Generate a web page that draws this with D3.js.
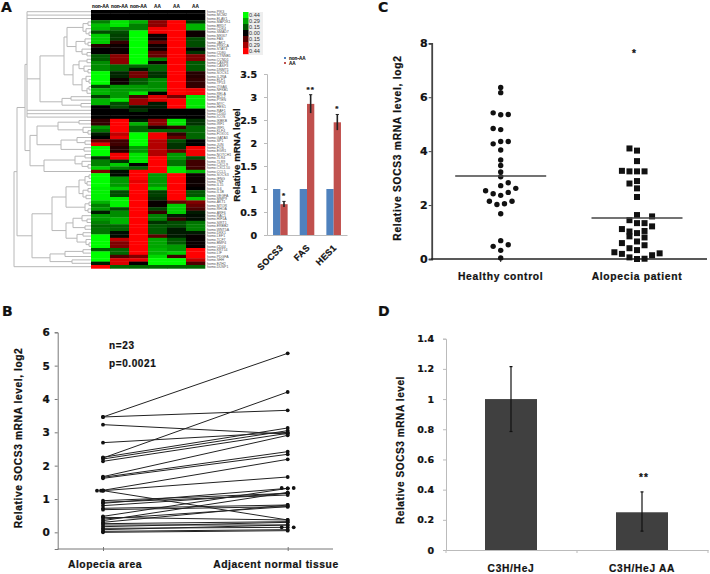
<!DOCTYPE html>
<html><head><meta charset="utf-8">
<script src="https://cdn.jsdelivr.net/npm/d3@7/dist/d3.min.js"></script>
<style>
html,body{margin:0;padding:0;background:#fff}
svg{display:block}
text{font-family:"Liberation Sans",Arial,sans-serif;font-weight:bold;fill:#111;stroke:#111;stroke-width:.22}
.num text,text.num{font-family:"DejaVu Sans",sans-serif}
text.fine{stroke:none;font-weight:normal}
</style></head><body><div id="c"></div>
<script>
// ---------- Panel A: heatmap ----------
const heatGroups=["non-AA","non-AA","non-AA","AA","AA","AA"];
const heatCol1=[0,0,0,-.5,-.75,-.7,-.3,-.8,-.8,-.8,.15,0,0,-.35,-.35,-.55,-.55,-.55,-1,-1,-1,-1,-.3,-.7,-.7,-.25,-.7,-.7,0,0,0,0,.2,.2,-.6,-.45,-.1,0,.4,.9,-1,-1,-1,-.2,-.5,-.5,-.8,.5,-1,-1,-1,-1,-.95,-.95,-.95,-.95,-.7,-.5,-.6,-.1,-.6,-.6,-.5,-.4,-.45,-.45,-1,-1,-1,-1,-.35,-1,-1,-1,-.1,1];
const heatCol2=[0,0,0,-.9,-.9,-.5,-.3,-.25,-.25,.2,.05,.05,.05,.55,.55,.55,-.4,-.4,-.15,-.15,.05,.05,-.6,-.6,-.6,-.6,-.9,-.3,-.3,0,0,0,1,1,1,1,.75,.9,.25,.25,.15,.15,.95,.95,-.2,-.8,-.5,-.05,-.05,-.6,-.6,-.6,-.8,-.3,-.3,-.95,-.95,-.95,-.3,-.55,-.55,-.7,-.7,-.4,-.4,-.05,-.05,.75,.5,.5,-.4,-.4,.3,.85,.85,-.4];
const heatCol3=[0,0,0,-.7,-.5,-.5,-1,-1,-1,-1,-1,-1,-1,-1,-1,-1,-.4,-.1,.45,.45,-.35,-.35,-.6,-.6,-.9,.3,.6,.6,-.1,-.2,0,0,-.1,-.7,-.4,-.4,-1,-1,-1,-1,-.6,-.6,-.9,-.9,-.9,0,-.4,1,1,1,.9,1,1,1,1,1,1,1,1,1,1,1,1,1,1,1,1,1,1,1,1,1,.5,.9,0,-.4];
const heatCol4=[0,0,0,.55,.55,.95,.95,.05,.05,.4,.05,.05,.4,.4,-.5,.05,-.4,-.4,-.2,-.2,-.55,-.55,-.55,-.6,0,.85,.85,-.1,-.1,0,0,0,.55,.55,.1,-.4,.95,.95,.7,.7,.7,.7,.7,1,1,1,1,1,-.6,-.6,-.6,-.6,-.8,-.25,-.25,-.2,.03,.03,-.25,.2,-.5,-.5,-.2,-.35,-.35,-.35,.35,-.65,-.65,-.65,-.7,-.7,-.85,-1,-1,-.4];
const heatCol5=[0,0,0,1,1,1,1,1,1,1,1,1,1,1,1,1,1,1,1,1,1,1,1,1,1,.45,1,1,1,0,0,0,-.9,-.9,.2,-.4,.2,.4,-.3,-.2,-.2,.4,-.6,-.6,-.45,-.45,-.9,-.9,1,1,1,1,1,1,1,1,.4,-.8,-.8,-.8,-.1,.2,-.3,-.3,-.1,-.1,-.1,-.35,-.35,-.6,-.6,-.8,.25,-1,-1,-.4];
const heatCol6=[0,0,0,-.2,-.7,-.7,.05,.05,-.3,-.3,-.3,0,-.2,.5,.5,-.35,-.35,-.35,.15,.15,.2,.2,.2,.95,.95,-.9,-.9,-.9,-.9,0,0,0,-.2,-.2,-.4,-.4,-.4,-.4,0,0,.95,.95,.95,-.3,.25,.25,.25,-.7,.05,.05,.05,.05,0,-.35,-.35,-.8,.5,.4,.3,-.1,-.05,-.05,-.45,-.5,-.5,-.1,.03,.03,.03,.03,1,1,1,.75,.3,-.4];
const heatColumns=[heatCol1,heatCol2,heatCol3,heatCol4,heatCol5,heatCol6];
const geneNames=["PIK3","MCM2","ELAV1","MAP2K1","BRD7","CDK4","SMAD7","MKI67","FAS","JAK2","PRKCA","STAT3","CD80","CTNNB1","CCND1","CASP8","CASP3","DNMT1","SOCS1","IL2RA","ELF1","TP53","ITGA6","NFKB1","RELA","BCL2","PTEN","MYC","HES1","RAF1","CD40","ICOS","IKBKB","IRF1","IRF5","KLF4","FOXO1","GATA3","SP1","JUN","FOS","EGR1","NOTCH1","TLR4","TLR9","CXCL9","CXCL10","CCL5","SOCS3","IFNG","TNF","IL15","IL6","IL1B","VEGFA","MMP9","AKT1","MTOR","RHOA","ARF6","RAC1","HIF1A","SIRT1","ERBB2","WNT5A","DKK1","LEF1","TCF7","BMP4","CD44","KRT14","LIF","PDGFA","SHH","EZH2","DUSP1"];
const heatLegendValues=[-.44,-.29,-.15,0,.15,.29,.44];
// dendrogram: [merge distance, ...children], 0 is a leaf
const dendroTree=[77,[74,
 [66,[64,0,0,0,
   [51,
    [27,
     [24,[8,[3,0,0],[5,0,[2,0,0]]],[15,[6,0,[3,0,0]],[9,0,[4,0,0]]]],
     [18,[12,[4,0,0],[7,0,[3,0,0]]],[9,[5,0,[2,0,0]],[4,[2,0,0],0]]]],
    [29,[20,0,0],[10,0,0]]],
   0,0,0],
  [61,
   [54,[33,[12,0,0],[8,0,[3,0,0]]],[30,[14,0,[6,0,0]],[7,0,0]]],
   [47,[16,[6,0,0],[9,0,[3,0,0]]],0]]],
 [59,
  [39,
   [25,[12,[6,[2,0,0],[4,0,0]],[8,[3,0,0],[5,0,0]]],[6,[2,0,0],[3,0,0]]],
   [25,[18,[9,0,[4,0,0]],[6,0,0]],[14,[8,0,0],[5,0,[2,0,0]]]]],
  [41,[26,[8,0,0],0],[19,0,0]]]],0];
// Panel A: inset bars
const barGenes=["SOCS3","FAS","HES1"];
const barSeries=["non-AA","AA"];
const barNonAA=[1,1,1];
const barAA=[.67,2.85,2.45];
const barAAErr=[.06,.2,.17];
const barStars=["*","**","*"];
const barTicks=[0,.5,1,1.5,2,2.5,3,3.5];
// ---------- Panel B ----------
const pairCats=["Alopecia area","Adjacent normal tissue"];
const pairLeft=[3.46,3.46,3.23,2.69,2.23,2.25,2.2,2.13,1.67,1.65,1.62,1.26,1.25,1.25,.95,.9,.87,.8,.72,.68,.48,.45,.4,.35,.3,.26,.22,.17,.12,.08,.03,0];
const pairRight=[5.37,3.66,2.95,3.0,4.21,3.13,3.05,2.97,2.91,2.42,2.34,2.19,1.66,.37,1.17,1.12,1.32,1.17,.82,.77,1.32,.37,.77,1.2,.82,.32,.22,.3,.15,.22,.08,.05];
const pairExtraLeft=[[-3,1.25],[-1,1.25]];
const pairExtraRight=[[-3,1.33],[3,1.33],[-3,.15],[3,.15]];
const pairTicks=[0,1,2,3,4,5,6];
// ---------- Panel C ----------
const scatterCats=["Healthy control","Alopecia patient"];
const healthyValues=[6.36,6.17,5.42,5.35,5.36,4.84,4.8,4.27,4.36,4.36,4.04,3.67,3.47,3.23,3.05,2.72,2.83,2.62,2.53,2.42,2.36,2.47,2.14,2.02,2.05,2.14,1.68,.68,.47,.53,.32,.04];
const healthySlots=[0,0,-2,0,2,-2,0,-2,0,2,0,0,0,0,0,0,2,4,-4,-2,0,2,-3,-1,1,3,0,0,-2,2,0,0];
const patientValues=[4.1,4.02,3.63,3.27,3.25,3.25,3.25,2.8,2.89,2.62,2.3,1.63,1.58,1.44,1.33,1.33,1.11,1.02,.96,1.04,1.21,.84,.8,.59,.65,.4,.51,.33,.25,.19,.06,0,.01,.14,.21];
const patientSlots=[-2,0,0,-4,-2,0,2,-2,0,0,0,0,4,-2,0,2,-4,-2,0,2,4,-2,2,-4,0,-2,2,0,-6,-4,-2,0,2,4,6];
const scatterMeans=[3.08,1.52];
const scatterTicks=[0,2,4,6,8];
// ---------- Panel D ----------
const mouseCats=["C3H/HeJ","C3H/HeJ AA"];
const mouseValues=[1,.25];
const mouseUpper=[1.215,.385];
const mouseLower=[.785,.125];
const mouseTicks=[0,.2,.4,.6,.8,1,1.2,1.4];

const svg=d3.select("#c").append("svg").attr("width",710).attr("height",574);
function label(x,y,s,size,opt={}){
  const t=svg.append("text").attr("x",x).attr("y",y).attr("font-size",size).text(s)
    .attr("text-anchor",opt.anchor||"middle");
  if(opt.rot!=null)t.attr("transform",`rotate(${opt.rot} ${x} ${y})`);
  if(opt.ls)t.style("letter-spacing",opt.ls+"px");
  if(opt.num)t.attr("class","num");
  if(opt.fine)t.attr("class","fine");
  if(opt.fill)t.style("fill",opt.fill);
  return t;
}
[["A",1,12],["B",2,316],["C",378,12],["D",378,316]].forEach(p=>label(p[1],p[2],p[0],14,{anchor:"start"}).style("font-family","DejaVu Sans"));

// ---- heatmap
const heatColor=d3.scaleLinear().domain([-1,0,1]).range(["#00ff00","#000000","#ff0000"]);
const heatX=d3.scaleBand().domain(d3.range(6)).range([91,205]);
const rowCount=heatCol1.length;
const heatY=d3.scaleBand().domain(d3.range(rowCount)).range([10,268.4]);
const heat=svg.append("g");
heatColumns.forEach((col,c)=>{
  heat.selectAll(null).data(col).join("rect")
   .attr("x",heatX(c)).attr("width",heatX.bandwidth()+.3)
   .attr("y",(d,i)=>heatY(i)).attr("height",heatY.bandwidth()+.3)
   .attr("fill",d=>heatColor(d));
});
heatGroups.forEach((g,i)=>label(heatX(i)+heatX.bandwidth()/2,8,g,4.7,{fine:false}).style("stroke-width",.1));
geneNames.forEach((g,i)=>label(207,heatY(i)+heatY.bandwidth()/2+1.2,"homo."+g,3.5,{anchor:"start",fill:"#555",fine:true}));

// ---- dendrogram
const dendroX=d3.scaleLinear().domain([0,77]).range([91,14]);
const root=d3.hierarchy(dendroTree,n=>Array.isArray(n)?n.slice(1):null);
let leafIdx=0;
root.eachAfter(n=>{
  if(!n.children){n.py=heatY(leafIdx)+heatY.bandwidth()/2;n.dist=0;leafIdx++;}
  else{n.dist=n.data[0];n.py=(n.children[0].py+n.children[n.children.length-1].py)/2;}
});
const dp=d3.path();
root.each(n=>{
  if(!n.children)return;
  const x=dendroX(n.dist);
  dp.moveTo(x,n.children[0].py);dp.lineTo(x,n.children[n.children.length-1].py);
  n.children.forEach(c=>{dp.moveTo(x,c.py);dp.lineTo(dendroX(c.dist),c.py);});
});
svg.append("path").attr("d",dp.toString()).attr("fill","none").attr("stroke","#b8b8b8").attr("stroke-width",1);

// ---- heat legend
svg.append("rect").attr("x",248).attr("y",12).attr("width",15).attr("height",43).attr("fill","#eeeeee");
const legendY=d3.scaleBand().domain(heatLegendValues).range([12,54]);
svg.selectAll(null).data(heatLegendValues).join("rect")
  .attr("x",243).attr("width",5.5).attr("y",d=>legendY(d)).attr("height",legendY.bandwidth()+.2)
  .attr("fill",d=>heatColor(d/.44));
heatLegendValues.forEach((v,i)=>label(249,legendY(v)+legendY.bandwidth()/2+2,Math.abs(v).toFixed(2),5.6,{anchor:"start",fill:"#333",fine:true}));

// ---- inset bars
const barX=d3.scaleBand().domain(barGenes).range([267,347]);
const barW=7.3;
const barInner=d3.scaleBand().domain(barSeries).range([barX.bandwidth()/2-barW,barX.bandwidth()/2+barW]);
const barY=d3.scaleLinear().domain([0,3.5]).range([235,74]);
const barCols={"non-AA":"#4f81bd","AA":"#c0504d"};
const ga=svg.append("g").attr("transform","translate(267,0)").attr("class","num")
  .call(d3.axisLeft(barY).tickValues(barTicks).tickFormat(d3.format("~g")).tickSize(3).tickPadding(7));
ga.selectAll("text").attr("font-size",9.5).attr("font-weight","bold");
ga.selectAll("path,line").attr("stroke","#bbb");
const gax=svg.append("g").attr("transform","translate(0,235)").call(d3.axisBottom(barX).tickValues([]).tickSize(0));
gax.select("path").attr("stroke","#bbb");
barX.domain().forEach((g,i)=>{
  const gx=barX(g);
  svg.append("rect").attr("x",gx+barInner("non-AA")).attr("width",barW).attr("y",barY(barNonAA[i])).attr("height",barY(0)-barY(barNonAA[i])).attr("fill",barCols["non-AA"]);
  svg.append("rect").attr("x",gx+barInner("AA")).attr("width",barW).attr("y",barY(barAA[i])).attr("height",barY(0)-barY(barAA[i])).attr("fill",barCols["AA"]);
  const ex=gx+barInner("AA")+barW/2;
  svg.append("line").attr("x1",ex).attr("x2",ex).attr("y1",barY(barAA[i]+barAAErr[i])).attr("y2",barY(barAA[i]-barAAErr[i])).attr("stroke","#222").attr("stroke-width",1.6);
  svg.append("line").attr("x1",ex-1.6).attr("x2",ex+1.6).attr("y1",barY(barAA[i]+barAAErr[i])).attr("y2",barY(barAA[i]+barAAErr[i])).attr("stroke","#222");
  label(ex,barY(barAA[i]+barAAErr[i])-3,barStars[i],8).style("letter-spacing","1px");
  label(gx+barX.bandwidth()/2+2,247,g,9,{anchor:"end",rot:-45,ls:.3}).attr("dy",2);
});
label(240,155,"Relative mRNA level",9.7,{rot:-90});
barSeries.forEach((s,i)=>{
  const y=d3.scalePoint().domain(barSeries).range([58,63])(s);
  svg.append("rect").attr("x",284).attr("y",y-1).attr("width",2).attr("height",2).attr("fill",barCols[s]);
  label(289,y+1.7,s,4.6,{anchor:"start"}).style("stroke-width",.1);
});

// ---- Panel B
const pairX=d3.scalePoint().domain(pairCats).range([103,287.7]);
const pairY=d3.scaleLinear().domain([-.5,6]).range([549,332.3]);
const jit=d3.scaleLinear().domain([-1,1]).range([-2,2]);
const gb=svg.append("g").attr("transform","translate(57.7,0)").attr("class","num")
  .call(d3.axisLeft(pairY).tickValues(pairTicks).tickFormat(d3.format("d")).tickSize(3).tickPadding(5));
gb.selectAll("text").attr("font-size",10.5).attr("font-weight","bold");
gb.selectAll("path,line").attr("stroke","#777");
const gbx=svg.append("g").attr("transform","translate(0,549)").call(d3.axisBottom(pairX).tickSize(4).tickFormat(""));
gbx.selectAll("line").attr("stroke","#777").attr("transform","translate(0,-2)");
svg.append("line").attr("x1",57.7).attr("x2",333).attr("y1",549).attr("y2",549).attr("stroke","#777");
gbx.select("path").remove();
pairLeft.forEach((l,i)=>svg.append("line").attr("x1",pairX(pairCats[0])).attr("x2",pairX(pairCats[1])).attr("y1",pairY(l)).attr("y2",pairY(pairRight[i])).attr("stroke","#222").attr("stroke-width",1));
svg.selectAll(null).data(pairLeft).join("circle").attr("cx",pairX(pairCats[0])).attr("cy",d=>pairY(d)).attr("r",1.9).attr("fill","#111");
svg.selectAll(null).data(pairRight).join("circle").attr("cx",pairX(pairCats[1])).attr("cy",d=>pairY(d)).attr("r",1.9).attr("fill","#111");
svg.selectAll(null).data(pairExtraLeft).join("circle").attr("cx",d=>pairX(pairCats[0])+jit(d[0])).attr("cy",d=>pairY(d[1])).attr("r",1.9).attr("fill","#111");
svg.selectAll(null).data(pairExtraRight).join("circle").attr("cx",d=>pairX(pairCats[1])+jit(d[0])).attr("cy",d=>pairY(d[1])).attr("r",1.9).attr("fill","#111");
label(19,438,"Relative SOCS3 mRNA level, log2",10.2,{rot:-90,ls:.6}).attr("dy",3);
label(109,349,"n=23",10,{anchor:"start",ls:.7});
label(109,367,"p=0.0021",10,{anchor:"start",ls:.6});
label(105,568,pairCats[0],10.3,{ls:.55});
label(276,568,pairCats[1],10.3,{ls:.55});

// ---- Panel C
const scatX=d3.scalePoint().domain(scatterCats).range([500.7,637]);
const scatY=d3.scaleLinear().domain([0,8]).range([259,43.3]);
const slot=d3.scaleLinear().domain([-1,1]).range([-3.77,3.77]);
const gc=svg.append("g").attr("transform","translate(431.7,0)").attr("class","num")
  .call(d3.axisLeft(scatY).tickValues(scatterTicks).tickFormat(d3.format("d")).tickSize(3).tickPadding(1));
gc.selectAll("text").attr("font-size",11).attr("font-weight","bold");
gc.selectAll("path,line").attr("stroke","#444");
gc.select("path").attr("stroke-width",1.8);
svg.append("line").attr("x1",431).attr("x2",707).attr("y1",scatY(0)).attr("y2",scatY(0)).attr("stroke","#222").attr("stroke-width",1.3);
scatterCats.forEach(c=>svg.append("line").attr("x1",scatX(c)).attr("x2",scatX(c)).attr("y1",scatY(0)).attr("y2",scatY(0)+3).attr("stroke","#222"));
svg.selectAll(null).data(healthyValues).join("circle").attr("cx",(d,i)=>scatX(scatterCats[0])+slot(healthySlots[i])).attr("cy",d=>scatY(d)).attr("r",2.7).attr("fill","#111");
svg.selectAll(null).data(patientValues).join("rect").attr("x",(d,i)=>scatX(scatterCats[1])+slot(patientSlots[i])-3).attr("y",d=>scatY(d)-3).attr("width",6).attr("height",6).attr("fill","#111");
scatterMeans.forEach((m,i)=>svg.append("line").attr("x1",scatX(scatterCats[i])-45.5).attr("x2",scatX(scatterCats[i])+45.5).attr("y1",scatY(m)).attr("y2",scatY(m)).attr("stroke","#444").attr("stroke-width",1.4));
label(634,57,"*",10);
label(398,148,"Relative SOCS3 mRNA level, log2",10.2,{rot:-90,ls:.75}).attr("dy",3);
scatterCats.forEach(c=>label(scatX(c)+(c===scatterCats[0]?0:0),280,c,10.3,{ls:.7}));

// ---- Panel D
const mouseX=d3.scaleBand().domain(mouseCats).range([446,708]);
const mouseW=52;
const mouseY=d3.scaleLinear().domain([0,1.4]).range([550,338.7]);
const gd=svg.append("g").attr("transform","translate(446,0)").attr("class","num")
  .call(d3.axisLeft(mouseY).tickValues(mouseTicks).tickFormat(d3.format("~g")).tickSize(3).tickPadding(9));
gd.selectAll("text").attr("font-size",9.5).attr("font-weight","bold");
gd.selectAll("path,line").attr("stroke","#bbb");
const gdx=svg.append("g").attr("transform","translate(0,550)").call(d3.axisBottom(mouseX).tickSize(0).tickFormat(""));
gdx.select("path").attr("stroke","#bbb");
[446,577,708].forEach(x=>svg.append("line").attr("x1",x).attr("x2",x).attr("y1",550).attr("y2",553).attr("stroke","#bbb"));
mouseCats.forEach((c,i)=>{
  const cx=mouseX(c)+mouseX.bandwidth()/2-.5;
  svg.append("rect").attr("x",cx-mouseW/2).attr("width",mouseW).attr("y",mouseY(mouseValues[i])).attr("height",mouseY(0)-mouseY(mouseValues[i])).attr("fill","#404040");
  svg.append("line").attr("x1",cx).attr("x2",cx).attr("y1",mouseY(mouseUpper[i])).attr("y2",mouseY(mouseLower[i])).attr("stroke","#111").attr("stroke-width",1.2);
  [mouseUpper[i],mouseLower[i]].forEach(v=>svg.append("line").attr("x1",cx-1.5).attr("x2",cx+1.5).attr("y1",mouseY(v)).attr("y2",mouseY(v)).attr("stroke","#111").attr("stroke-width",1.2));
  label(cx,573,c,10.2,{ls:.7}).attr("dy",-1);
});
label(644,481,"**",10).style("letter-spacing","1px");
label(401,450,"Relative SOCS3 mRNA level",10,{rot:-90,ls:.6}).attr("dy",3);
</script></body></html>
